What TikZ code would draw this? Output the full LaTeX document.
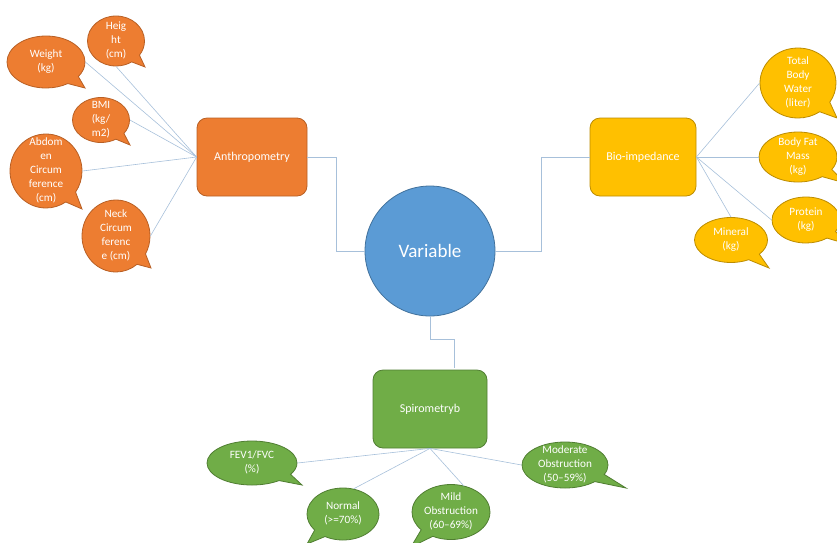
\documentclass[tikz,border=0pt]{standalone}
\usepackage{fontspec}
\setmainfont{Carlito}
\usetikzlibrary{shapes.callouts,shapes.geometric,calc}
\definecolor{orfill}{HTML}{ED7D31}
\definecolor{orline}{HTML}{B85F24}
\definecolor{yefill}{HTML}{FFC000}
\definecolor{yeline}{HTML}{BC8C00}
\definecolor{blfill}{HTML}{5B9BD5}
\definecolor{blline}{HTML}{41719C}
\definecolor{grfill}{HTML}{70AD47}
\definecolor{grline}{HTML}{507E32}
\definecolor{linkc}{HTML}{A7C0DA}
\newcommand\lbl[1]{\makebox[0pt]{\raisebox{-2.6pt}[0pt][0pt]{\begin{tabular}{@{}c@{}}#1\end{tabular}}}}
\tikzset{
  leaf/.style={ellipse callout, callout pointer arc=22, inner sep=0pt, draw, line width=0.8pt,
    text=white, font=\fontsize{11.2}{14}\selectfont},
  oleaf/.style={leaf, fill=orfill, draw=orline},
  yleaf/.style={leaf, fill=yefill, draw=yeline},
  gleaf/.style={leaf, fill=grfill, draw=grline},
  hub/.style={rectangle, rounded corners=10pt, draw, line width=0.8pt, text=white,
    font=\fontsize{12}{14}\selectfont, inner sep=0pt},
  link/.style={draw=linkc, line width=0.6pt},
}
\begin{document}
\begin{tikzpicture}[x=1pt,y=-1pt]
\useasboundingbox (0,0) rectangle (837,542);
\clip (0,0) rectangle (837,542);

% hubs
\node[hub, fill=orfill, draw=orline, minimum width=110pt, minimum height=78pt] (anthro) at (252,157) {Anthropometry};
\node[hub, fill=yefill, draw=yeline, minimum width=106pt, minimum height=78pt] (bio) at (643,157) {Bio-impedance};
\node[hub, fill=grfill, draw=grline, minimum width=114pt, minimum height=78pt] (spiro) at (430,409) {Spirometryb};
\node[circle, fill=blfill, draw=blline, line width=0.8pt, minimum size=130pt, inner sep=0pt,
  text=white, font=\fontsize{19}{21}\selectfont] (var) at (430,251) {Variable};

% anthropometry leaves
\node[oleaf, minimum width=57pt, minimum height=50pt, callout absolute pointer={(145,67)}] (height) at (116,41) {\lbl{Heig\\ht\\(cm)}};
\node[oleaf, minimum width=78pt, minimum height=52pt, callout absolute pointer={(85,88)}] (weight) at (46,62) {\lbl{Weight\\(kg)}};
\node[oleaf, minimum width=57pt, minimum height=45pt, callout absolute pointer={(130,145)}] (bmi) at (101,120) {\lbl{BMI\\(kg/\\m2)}};
\node[oleaf, minimum width=72pt, minimum height=74pt, callout absolute pointer={(82,209)}] (abdomen) at (46,171) {\lbl{Abdom\\en\\Circum\\ference\\(cm)}};
\node[oleaf, minimum width=68pt, minimum height=72pt, callout absolute pointer={(151,268)}] (neck) at (116,236) {\lbl{Neck\\Circum\\ferenc\\e (cm)}};

% bio-impedance leaves
\node[yleaf, minimum width=76pt, minimum height=70pt, callout absolute pointer={(837,118)}] (tbw) at (798,83) {\lbl{Total\\Body\\Water\\(liter)}};
\node[yleaf, minimum width=78pt, minimum height=50pt, callout absolute pointer={(845,183)}] (bfm) at (798,157) {\lbl{Body Fat\\Mass\\(kg)}};
\node[yleaf, minimum width=68pt, minimum height=46pt, callout absolute pointer={(847,244)}] (protein) at (806,220) {\lbl{Protein\\(kg)}};
\node[yleaf, minimum width=73pt, minimum height=45pt, callout absolute pointer={(769,268)}] (mineral) at (731,240) {\lbl{Mineral\\(kg)}};

% spirometry leaves
\node[gleaf, minimum width=90pt, minimum height=44pt, callout absolute pointer={(302,485)}] (fev) at (252,463) {\lbl{FEV1/FVC\\(\%)}};
\node[gleaf, minimum width=72pt, minimum height=52pt, callout absolute pointer={(307,544)}] (normal) at (343,514) {\lbl{Normal\\(>=70\%)}};
\node[gleaf, minimum width=78pt, minimum height=55pt, callout absolute pointer={(411,547)}] (mild) at (451,512) {\lbl{Mild\\Obstruction\\(60–69\%)}};
\node[gleaf, minimum width=86pt, minimum height=46pt, callout absolute pointer={(626,488)}] (moderate) at (565,465) {\lbl{Moderate\\Obstruction\\(50–59\%)}};

% elbow connectors to the centre
\coordinate (spiroin) at (454,368);
\draw[link] (anthro.east) -- ++(29,0) |- (var.west);
\draw[link] (bio.west) -- ++(-48,0) |- (var.east);
\draw[link] (var.south) -- ++(0,23) -| (spiroin);

% leaf connectors
\draw[link] (anthro.west) -- (height.south);
\draw[link] (anthro.west) -- (weight.east);
\draw[link] (anthro.west) -- (bmi.east);
\draw[link] (anthro.west) -- (abdomen.east);
\draw[link] (anthro.west) -- (neck.east);

\draw[link] (bio.east) -- (tbw.west);
\draw[link] (bio.east) -- (bfm.west);
\draw[link] (bio.east) -- (protein.west);
\draw[link] (bio.east) -- (mineral.north);

\draw[link] (spiro.south) -- (fev.east);
\draw[link] (spiro.south) -- ($(normal.north)+(11,1)$);
\draw[link] (spiro.south) -- ($(mild.north)+(13,2)$);
\draw[link] (spiro.south) -- (moderate.west);
\end{tikzpicture}
\end{document}
